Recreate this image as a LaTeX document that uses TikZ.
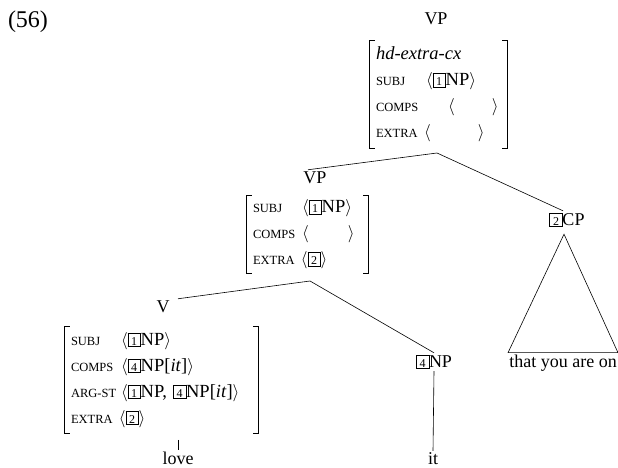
\documentclass[tikz,border=0pt]{standalone}
\usepackage{fontspec}
\setmainfont{Liberation Serif}
\usetikzlibrary{calc}

% small caps feature names and boxed tags
\newcommand\feat[1]{{\fontsize{12.5}{13}\selectfont #1}}
\newcommand\tg[1]{{\setlength\fboxsep{0pt}\setlength\fboxrule{0.5pt}\fbox{\rule[-1pt]{0pt}{13pt}\makebox[12pt]{\fontsize{12}{12}\selectfont #1}}}}
\newcommand\lang{$\langle$}
\newcommand\rang{$\rangle$}
\newcommand\avmbrackets[1]{%
  \draw[avmbr] ([xshift=5pt]#1.north west) -- (#1.north west) -- (#1.south west) -- ([xshift=5pt]#1.south west);
  \draw[avmbr] ([xshift=-5pt]#1.north east) -- (#1.north east) -- (#1.south east) -- ([xshift=-5pt]#1.south east);}

\tikzset{
  cat/.style={font=\fontsize{18}{22}\selectfont, inner sep=2pt},
  avm/.style={font=\fontsize{18.5}{26}\selectfont, align=left, inner xsep=6pt, inner ysep=0pt},
  avmbr/.style={line width=0.8pt},
  branch/.style={line width=0.6pt},
}

\begin{document}
\begin{tikzpicture}[x=1pt,y=1pt]
  \useasboundingbox (0,0) rectangle (618,468);
  \node[cat, font=\fontsize{24}{28}\selectfont] (ex) at (28,446) {(56)};
  % mother VP
  \node[cat] (vpT) at (436,449) {VP};
  \node[avm, text width=125pt, minimum height=107pt] (avmT) at (438.5,373.5) {%
    \textit{hd-extra-cx}\\
    \makebox[50pt][l]{\feat{SUBJ}}\lang\tg{1}NP\rang\\
    \makebox[72pt][l]{\feat{COMPS}}\makebox[44pt][l]{\lang}\rang\\
    \makebox[48pt][l]{\feat{EXTRA}}\makebox[54pt][l]{\lang}\rang};
  \avmbrackets{avmT}
  % head daughter VP
  \node[cat] (vpM) at (315,290) {VP};
  \node[avm, text width=109pt, minimum height=77pt] (avmM) at (307.5,233.5) {%
    \makebox[49pt][l]{\feat{SUBJ}}\lang\tg{1}NP\rang\\
    \makebox[49pt][l]{\feat{COMPS}}\makebox[46pt][l]{\lang}\rang\\
    \feat{EXTRA} \lang\tg{2}\rang};
  \avmbrackets{avmM}
  % verb
  \node[cat] (vV) at (163,161) {V};
  \node[avm, text width=181pt, minimum height=106pt] (avmV) at (161.5,88) {%
    \makebox[50pt][l]{\feat{SUBJ}}\lang\tg{1}NP\rang\\
    \makebox[50pt][l]{\feat{COMPS}}\lang\tg{4}NP[\textit{it}]\rang\\
    \makebox[50pt][l]{\feat{ARG-ST}}\lang\tg{1}NP, \tg{4}NP[\textit{it}]\rang\\
    \feat{EXTRA} \lang\tg{2}\rang};
  \avmbrackets{avmV}
  % leaves
  \node[cat, anchor=base] (love) at (178,3) {love};
  \node[cat] (np) at (434,106) {\tg{4}NP};
  \node[cat, anchor=base] (it) at (433,3) {it};
  \node[cat] (cp) at (567,248) {\tg{2}CP};
  \node[cat, inner xsep=1pt] (that) at (563,105) {that you are on};
  % branches
  \coordinate (jT) at (437,315);
  \coordinate (jM) at (310,187);
  \coordinate (vtick) at (178,28);
  \draw[branch] (jT) -- ($(vpM.north)+(-7,0)$);
  \draw[branch] (jT) -- ($(cp.north)+(-4,0)$);
  \draw[branch] (jM) -- ($(vV.north)+(15,0)$);
  \draw[branch] (jM) -- (np.north);
  \draw[branch] (np.south) -- (it.north);
  \draw[branch] (vtick) -- (love.north);
  \draw[branch] ($(cp.south)+(-3,-5)$) -- (that.north west) -- (that.north east) -- cycle;
\end{tikzpicture}
\end{document}
